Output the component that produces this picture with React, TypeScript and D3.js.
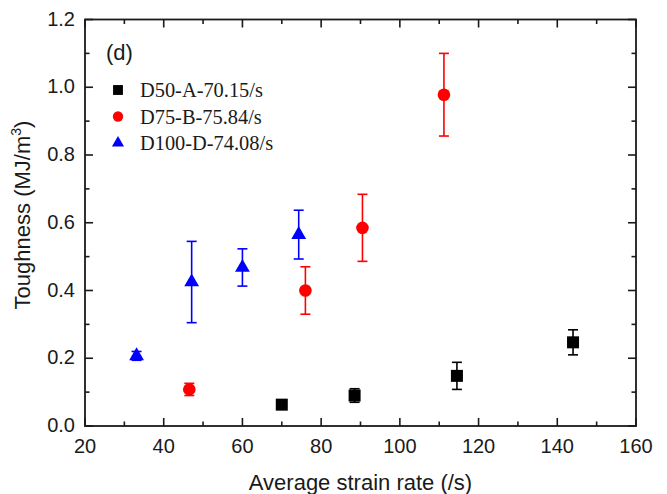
import React from "react";
import * as d3 from "d3";

const xTicks = [20, 40, 60, 80, 100, 120, 140, 160];
const yTicks = [0, 0.2, 0.4, 0.6, 0.8, 1.0, 1.2];

const seriesNames = ["D50-A-70.15/s", "D75-B-75.84/s", "D100-D-74.08/s"];
const seriesColors = ["#000000", "#ff0000", "#0000ff"];
const seriesShapes = ["square", "circle", "triangle"];

const d50X = [70, 88.5, 114.5, 144];
const d50Y = [0.063, 0.09, 0.148, 0.247];
const d50Err = [0.008, 0.02, 0.04, 0.037];

const d75X = [46.5, 76, 90.5, 111.2];
const d75Y = [0.108, 0.4, 0.585, 0.978];
const d75Err = [0.018, 0.07, 0.099, 0.122];

const d100X = [33.1, 47.1, 60, 74.3];
const d100Y = [0.207, 0.425, 0.468, 0.565];
const d100Err = [0.013, 0.12, 0.055, 0.072];

const W = 667, H = 494;
const L = 85, R = 636, T = 19.5, B = 426;

export default function App() {
  const x = d3.scaleLinear().domain([20, 160]).range([L, R]);
  const y = d3.scaleLinear().domain([0, 1.2]).range([B, T]);
  const xMinor = d3.range(30, 160, 20);
  const yMinor = d3.range(0.1, 1.2, 0.2);

  const series = [
    { xs: d50X, ys: d50Y, es: d50Err },
    { xs: d75X, ys: d75Y, es: d75Err },
    { xs: d100X, ys: d100Y, es: d100Err },
  ];

  const marker = (shape: string, cx: number, cy: number, color: string, key: string, k = 1) => {
    if (shape === "square") {
      const s = 12 * k;
      return <rect key={key} x={cx - s / 2} y={cy - s / 2} width={s} height={s} fill={color} />;
    }
    if (shape === "circle") {
      return <circle key={key} cx={cx} cy={cy} r={6.3 * k} fill={color} />;
    }
    const p = d3.symbol().type(d3.symbolTriangle).size(95 * k * k)();
    return <path key={key} d={p as string} transform={`translate(${cx},${cy})`} fill={color} />;
  };

  const font = "'Liberation Sans', Arial, sans-serif";
  const serif = "'Liberation Serif', 'Times New Roman', serif";
  const axisColor = "#1a1a1a";

  return (
    <svg width={W} height={H} style={{ position: "absolute", left: 0, top: 0, background: "#fff" }}>
      <rect x={0} y={0} width={W} height={H} fill="#fff" />
      {/* ticks */}
      {xTicks.map((t) => (
        <g key={"xt" + t}>
          <line x1={x(t)} x2={x(t)} y1={B} y2={B - 8} stroke={axisColor} strokeWidth={1.6} />
          <line x1={x(t)} x2={x(t)} y1={T} y2={T + 8} stroke={axisColor} strokeWidth={1.6} />
          <text x={x(t)} y={453} textAnchor="middle" fontFamily={font} fontSize={20} fill="#1a1a1a">{t}</text>
        </g>
      ))}
      {xMinor.map((t) => (
        <g key={"xm" + t}>
          <line x1={x(t)} x2={x(t)} y1={B} y2={B - 4.5} stroke={axisColor} strokeWidth={1.6} />
          <line x1={x(t)} x2={x(t)} y1={T} y2={T + 4.5} stroke={axisColor} strokeWidth={1.6} />
        </g>
      ))}
      {yTicks.map((t) => (
        <g key={"yt" + t}>
          <line x1={L} x2={L + 8} y1={y(t)} y2={y(t)} stroke={axisColor} strokeWidth={1.6} />
          <line x1={R} x2={R - 8} y1={y(t)} y2={y(t)} stroke={axisColor} strokeWidth={1.6} />
          <text x={75} y={y(t) + 6} textAnchor="end" fontFamily={font} fontSize={20} fill="#1a1a1a">{t.toFixed(1)}</text>
        </g>
      ))}
      {yMinor.map((t) => (
        <g key={"ym" + t}>
          <line x1={L} x2={L + 4.5} y1={y(t)} y2={y(t)} stroke={axisColor} strokeWidth={1.6} />
          <line x1={R} x2={R - 4.5} y1={y(t)} y2={y(t)} stroke={axisColor} strokeWidth={1.6} />
        </g>
      ))}
      <rect x={L} y={T} width={R - L} height={B - T} fill="none" stroke={axisColor} strokeWidth={1.8} />

      {/* data */}
      {series.map((s, si) => (
        <g key={"s" + si}>
          {s.xs.map((xv, i) => {
            const cx = x(xv);
            const top = y(s.ys[i] + s.es[i]);
            const bot = y(s.ys[i] - s.es[i]);
            const c = seriesColors[si];
            return (
              <g key={i}>
                <line x1={cx} x2={cx} y1={top} y2={bot} stroke={c} strokeWidth={1.6} />
                <line x1={cx - 5} x2={cx + 5} y1={top} y2={top} stroke={c} strokeWidth={1.6} />
                <line x1={cx - 5} x2={cx + 5} y1={bot} y2={bot} stroke={c} strokeWidth={1.6} />
                {marker(seriesShapes[si], cx, y(s.ys[i]), c, "m" + i)}
              </g>
            );
          })}
        </g>
      ))}

      {/* panel label */}
      <text x={106} y={60} fontFamily={font} fontSize={22} fill="#1a1a1a">(d)</text>

      {/* legend */}
      {seriesNames.map((n, i) => (
        <g key={"lg" + i}>
          {marker(seriesShapes[i], 118, 90 + i * 26.5, seriesColors[i], "lm" + i, 0.82)}
          <text x={140} y={97 + i * 26.5} fontFamily={serif} fontSize={20.4} fill="#1a1a1a">{n}</text>
        </g>
      ))}

      {/* axis titles */}
      <text x={(L + R) / 2} y={490} textAnchor="middle" fontFamily={font} fontSize={22} fill="#1a1a1a">
        Average strain rate (/s)
      </text>
      <text transform={`translate(30,215) rotate(-90)`} textAnchor="middle" fontFamily={font} fontSize={22} fill="#1a1a1a">
        Toughness (MJ/m<tspan dy={-9} fontSize={14}>3</tspan><tspan dy={9}>)</tspan>
      </text>
    </svg>
  );
}
